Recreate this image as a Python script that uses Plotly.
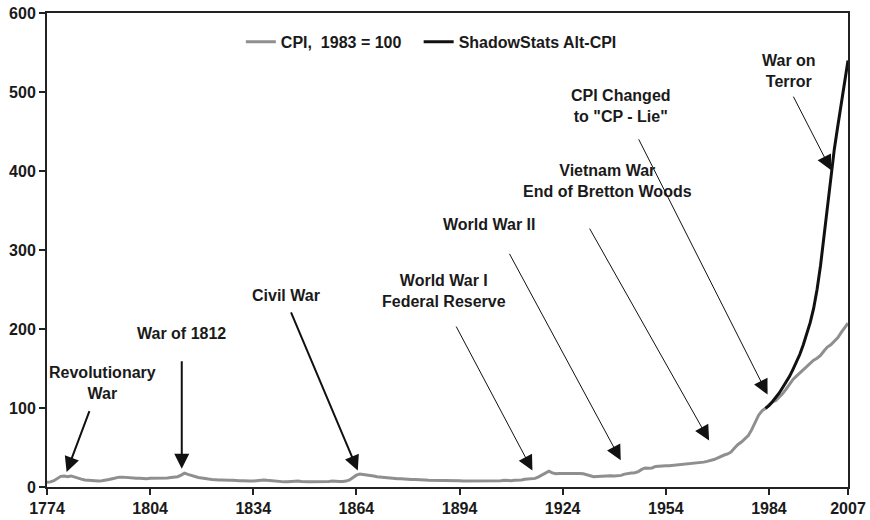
import plotly.graph_objects as go

# ---------------- data ----------------
cpi_years = list(range(1774, 2008))
cpi_values = [
    # 1774-1799
    6.0, 6.5, 8.0, 11.0, 13.5, 14.0, 13.0, 14.0, 12.5, 11.0,
    10.0, 9.0, 8.5, 8.0, 7.5, 7.5, 8.0, 8.5, 9.5, 10.5,
    11.5, 12.5, 12.5, 12.0, 11.5, 11.5,
    # 1800-1849
    11.0, 11.0, 10.5, 10.5, 11.0, 11.0, 11.5, 11.0, 11.5, 11.5,
    12.0, 12.5, 13.0, 15.0, 17.5, 16.0, 14.5, 13.0, 12.0, 11.5,
    10.5, 10.0, 9.5, 9.0, 9.0, 9.0, 8.5, 8.5, 8.5, 8.0,
    8.0, 8.0, 7.5, 7.5, 7.5, 8.0, 8.5, 9.0, 8.5, 8.0,
    7.5, 7.5, 7.0, 6.5, 6.5, 7.0, 7.0, 7.5, 7.0, 6.5,
    # 1850-1899
    6.5, 6.5, 6.5, 6.5, 7.0, 7.0, 7.0, 7.5, 7.0, 7.0,
    7.0, 7.5, 9.0, 12.0, 15.0, 16.5, 16.0, 15.0, 14.5, 14.0,
    13.0, 12.5, 12.5, 12.0, 11.5, 11.0, 10.5, 10.5, 10.0, 9.5,
    9.5, 9.5, 9.5, 9.0, 9.0, 8.5, 8.5, 8.5, 8.5, 8.5,
    8.5, 8.5, 8.5, 8.0, 8.0, 7.5, 7.5, 7.5, 7.5, 7.5,
    # 1900-1949
    7.5, 7.5, 8.0, 8.0, 8.0, 8.0, 8.0, 8.5, 8.0, 8.0,
    8.5, 8.5, 9.0, 9.9, 10.0, 10.1, 10.9, 12.8, 15.1, 17.3,
    20.0, 17.9, 16.8, 17.1, 17.1, 17.5, 17.7, 17.4, 17.1, 17.1,
    16.7, 15.2, 13.7, 13.0, 13.4, 13.7, 13.9, 14.4, 14.1, 13.9,
    14.0, 14.7, 16.3, 17.3, 17.6, 18.0, 19.5, 22.3, 24.1, 23.8,
    # 1950-1999
    24.1, 26.0, 26.5, 26.7, 26.9, 26.8, 27.2, 28.1, 28.9, 29.1,
    29.6, 29.9, 30.2, 30.6, 31.0, 31.5, 32.4, 33.4, 34.8, 36.7,
    38.8, 40.5, 41.8, 44.4, 49.3, 53.8, 56.9, 60.6, 65.2, 72.6,
    82.4, 90.9, 96.5, 99.6, 103.9, 107.6, 109.6, 113.6, 118.3, 124.0,
    130.7, 136.2, 140.3, 144.5, 148.2, 152.4, 156.9, 160.5, 163.0, 166.6,
    # 2000-2007
    172.2, 177.1, 179.9, 184.0, 188.9, 195.3, 201.6, 207.3,
]

alt_years = list(range(1983, 2008))
alt_values = [
    99.6, 103.0, 108.0, 113.0, 119.0, 126.0, 133.0, 140.0, 149.0, 158.0,
    168.0, 180.0, 193.0, 208.0, 226.0, 250.0, 280.0, 318.0, 356.0, 393.0,
    427.0, 456.0, 484.0, 512.0, 540.0,
]

x_tick_vals = [1774, 1804, 1834, 1864, 1894, 1924, 1954, 1984, 2007]
x_tick_text = ["1774", "1804", "1834", "1864", "1894", "1924", "1954", "1984", "2007"]
y_tick_vals = [0, 100, 200, 300, 400, 500, 600]

series_names = ["CPI,  1983 = 100", "ShadowStats Alt-CPI"]

# annotations: (text, text_x, text_y, tail_x, tail_y, tip_x, tip_y, width)
notes = [
    ("Revolutionary<br>War", 1790.0, 132, 1786.5, 98, 1779.7, 19, 2),
    ("War of 1812", 1813.0, 194, 1813.2, 161, 1813.2, 23, 2),
    ("Civil War", 1843.6, 243, 1844.8, 223, 1864.4, 21, 2),
    ("World War I<br>Federal Reserve", 1889.6, 248, 1892.8, 205, 1915.2, 21, 1),
    ("World War II", 1902.5, 332, 1908.3, 297, 1940.9, 34, 1),
    ("Vietnam War<br>End of Bretton Woods", 1937.1, 387, 1931.6, 329, 1966.6, 59, 1),
    ("CPI Changed<br>to \"CP - Lie\"", 1940.9, 482, 1945.9, 442, 1983.6, 117, 1),
    ("War on<br>Terror", 1989.8, 526, 1990.9, 496, 2002.1, 401, 1),
]

# ---------------- figure ----------------
fig = go.Figure()
fig.add_trace(go.Scatter(
    x=cpi_years, y=cpi_values, mode="lines", name=series_names[0],
    line=dict(color="#8f8f8f", width=3), legend="legend",
))
fig.add_trace(go.Scatter(
    x=alt_years, y=alt_values, mode="lines", name=series_names[1],
    line=dict(color="#111111", width=3), legend="legend2",
))

annotations = []
for text, tx, ty, ax, ay, px, py, w in notes:
    annotations.append(dict(
        x=tx, y=ty, xref="x", yref="y", text=text, showarrow=False,
        font=dict(size=16, color="#1a1a1a"), align="center",
    ))
    annotations.append(dict(
        x=px, y=py, xref="x", yref="y", ax=ax, ay=ay, axref="x", ayref="y",
        text="", showarrow=True, arrowhead=2, arrowsize=3.0 / w,
        arrowwidth=w, arrowcolor="#111111",
    ))

legend_style = dict(orientation="h", y=0.975, xanchor="left", yanchor="top",
                    bgcolor="rgba(0,0,0,0)", font=dict(size=16, weight="bold"))

fig.update_layout(
    width=870, height=520,
    margin=dict(l=47, r=22, t=13, b=33, autoexpand=False),
    paper_bgcolor="white", plot_bgcolor="white",
    font=dict(family="Liberation Sans, Arial, sans-serif", size=16,
              color="#1a1a1a", weight="bold"),
    showlegend=True,
    legend=dict(x=0.242, **legend_style),
    legend2=dict(x=0.464, **legend_style),
    annotations=annotations,
)
fig.update_xaxes(
    range=[1774, 2007], tickvals=x_tick_vals, ticktext=x_tick_text,
    showgrid=False, zeroline=False, showline=True, linecolor="#222222",
    linewidth=2, mirror=True, ticks="outside", ticklen=6, tickwidth=2,
    tickcolor="#222222", tickfont=dict(size=16, weight="bold"),
    automargin=False, ticklabeloverflow="allow",
)
fig.update_yaxes(
    range=[0, 600], tickvals=y_tick_vals,
    showgrid=False, zeroline=False, showline=True, linecolor="#222222",
    linewidth=2, mirror=True, ticks="outside", ticklen=6, tickwidth=2,
    tickcolor="#222222", tickfont=dict(size=16, weight="bold"),
    automargin=False, ticklabeloverflow="allow",
)

# remove the browser's default 8px page margin so the figure fills the window
fig.write_html("out.html",
               config={"displayModeBar": False},
               post_script="document.body.style.margin='0px';")
